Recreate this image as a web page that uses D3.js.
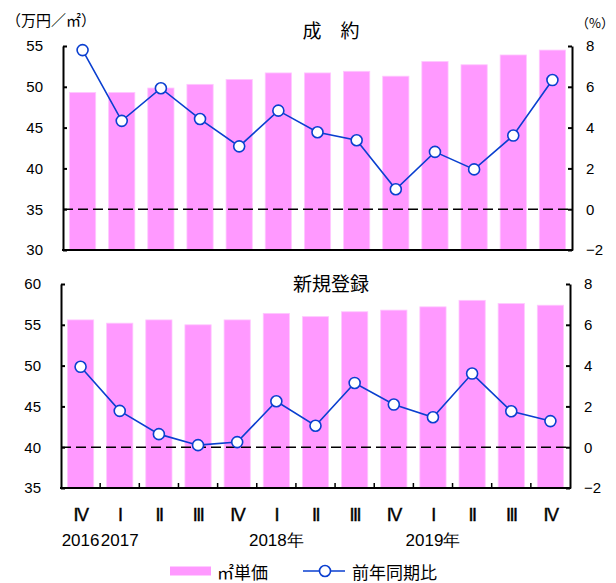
<!DOCTYPE html>
<html>
<head>
<meta charset="utf-8">
<script src="https://cdn.jsdelivr.net/npm/d3@7/dist/d3.min.js"></script>
<style>
  html, body { margin: 0; padding: 0; background: #fff; }
  svg { display: block; }
  text { font-family: "Liberation Sans", Arial, sans-serif; fill: #000; }
  .jp { font-family: "Noto Sans CJK JP", sans-serif; }
</style>
</head>
<body>
<script>
// Quarterly categories (2016 Q4 – 2019 Q4)
const quarters = ["IV", "I", "II", "III", "IV", "I", "II", "III", "IV", "I", "II", "III", "IV"];
const yearLabels = ["2016", "2017", "", "", "", "2018年", "", "", "", "2019年", "", "", ""];

// 成約: ㎡単価 (万円/㎡) and 前年同期比 (%)
const contractPrice = [49.3, 49.3, 49.85, 50.3, 50.9, 51.7, 51.7, 51.9, 51.3, 53.1, 52.7, 53.9, 54.5];
const contractYoY   = [7.8, 4.33, 5.93, 4.42, 3.08, 4.83, 3.77, 3.38, 0.98, 2.81, 1.95, 3.61, 6.33];

// 新規登録: ㎡単価 (万円/㎡) and 前年同期比 (%)
const listingPrice = [55.6, 55.2, 55.6, 55.0, 55.6, 56.4, 56.0, 56.6, 56.8, 57.2, 58.0, 57.6, 57.4];
const listingYoY   = [3.94, 1.78, 0.64, 0.1, 0.25, 2.25, 1.05, 3.15, 2.09, 1.47, 3.61, 1.76, 1.28];

// Axis ticks
const contractPriceTicks = [30, 35, 40, 45, 50, 55];
const listingPriceTicks  = [35, 40, 45, 50, 55, 60];
const yoyTicks = [-2, 0, 2, 4, 6, 8];

const W = 616, H = 583;
const BAR = "#ff99ff", LINE = "#0a3fd0";

const svg = d3.select("body").append("svg").attr("width", W).attr("height", H);

function panel(cfg) {
  const { x0, x1, top, bottom, priceDomain, priceTicks, price, yoy, title, titleY, xTicks } = cfg;
  const g = svg.append("g");

  const x = d3.scaleBand().domain(d3.range(quarters.length)).range([x0, x1])
    .paddingInner(0.33).paddingOuter(0.165);
  const yL = d3.scaleLinear().domain(priceDomain).range([bottom, top]);
  const yR = d3.scaleLinear().domain([-2, 8]).range([bottom, top]);

  // bars
  g.selectAll("rect.bar").data(price).join("rect")
    .attr("class", "bar")
    .attr("x", (d, i) => x(i))
    .attr("width", x.bandwidth())
    .attr("y", d => yL(d))
    .attr("height", d => yL(priceDomain[0]) - yL(d))
    .attr("fill", BAR)
    .attr("stroke", "#ffc8ff").attr("stroke-width", 0.8);

  // zero line for the YoY axis
  g.append("line")
    .attr("x1", x0).attr("x2", x1)
    .attr("y1", yR(0)).attr("y2", yR(0))
    .attr("stroke", "#000").attr("stroke-width", 1.5)
    .attr("stroke-dasharray", "10,5");

  // left axis
  const axL = g.append("g").attr("transform", `translate(${x0},0)`)
    .call(d3.axisLeft(yL).tickValues(priceTicks).tickSize(-4).tickPadding(20).tickSizeOuter(0));
  // right axis
  const axR = g.append("g").attr("transform", `translate(${x1},0)`)
    .call(d3.axisRight(yR).tickValues(yoyTicks).tickSize(-4).tickPadding(14).tickSizeOuter(0));
  [axL, axR].forEach(a => {
    a.select(".domain").attr("stroke", "#000").attr("stroke-width", 2);
    a.selectAll(".tick line").attr("stroke", "#000").attr("stroke-width", 2);
    a.selectAll(".tick text").attr("font-size", 15).attr("font-family", "Liberation Sans, Arial, sans-serif").attr("fill", "#000");
  });
  axR.selectAll(".tick text").attr("fill", d => d < 0 ? "#ff0000" : "#000");

  // bottom axis line
  g.append("line")
    .attr("x1", x0 - 1).attr("x2", x1 + 1)
    .attr("y1", bottom).attr("y2", bottom)
    .attr("stroke", "#000").attr("stroke-width", 2);
  if (xTicks) {
    const step = x.step();
    g.selectAll("line.xt").data(d3.range(1, quarters.length)).join("line")
      .attr("class", "xt")
      .attr("x1", i => x0 + i * step).attr("x2", i => x0 + i * step)
      .attr("y1", bottom).attr("y2", bottom - 5)
      .attr("stroke", "#000").attr("stroke-width", 1.5);
  }

  // YoY line with markers
  const cx = i => x(i) + x.bandwidth() / 2;
  g.append("path").datum(yoy)
    .attr("fill", "none").attr("stroke", LINE).attr("stroke-width", 1.6)
    .attr("d", d3.line().x((d, i) => cx(i)).y(d => yR(d)));
  g.selectAll("circle.pt").data(yoy).join("circle")
    .attr("class", "pt")
    .attr("cx", (d, i) => cx(i)).attr("cy", d => yR(d)).attr("r", 5.5)
    .attr("fill", "#fff").attr("stroke", LINE).attr("stroke-width", 1.6);

  // panel title
  g.append("text").attr("class", "jp")
    .attr("x", 331).attr("y", titleY)
    .attr("text-anchor", "middle").attr("font-size", 19)
    .text(title);

  return { x };
}

panel({
  x0: 63, x1: 572, top: 46, bottom: 250,
  priceDomain: [30, 55], priceTicks: contractPriceTicks,
  price: contractPrice, yoy: contractYoY,
  title: "成　約", titleY: 38, xTicks: false
});

const bottomPanel = panel({
  x0: 61, x1: 570, top: 284, bottom: 488,
  priceDomain: [35, 60], priceTicks: listingPriceTicks,
  price: listingPrice, yoy: listingYoY,
  title: "新規登録", titleY: 291, xTicks: true
});

// quarter (Roman numeral) and year labels
const bx = bottomPanel.x;
svg.selectAll("text.q").data(quarters).join("text")
  .attr("class", "q")
  .attr("x", (d, i) => bx(i) + bx.bandwidth() / 2)
  .attr("y", 521)
  .attr("text-anchor", "middle")
  .attr("font-size", 18)
  .attr("font-family", "Liberation Serif, DejaVu Serif, serif")
  .attr("stroke", "#000").attr("stroke-width", 0.4)
  .attr("letter-spacing", -1.5)
  .text(d => d);
svg.selectAll("text.yr").data(yearLabels).join("text")
  .attr("class", "yr")
  .attr("x", (d, i) => bx(i) + bx.bandwidth() / 2)
  .attr("y", 546)
  .attr("text-anchor", "middle")
  .attr("font-size", 17)
  .attr("font-family", "Liberation Sans, Noto Sans CJK JP, sans-serif")
  .text(d => d);

// unit labels
svg.append("text").attr("class", "jp").attr("x", 6).attr("y", 26)
  .attr("font-size", 15).text("（万円／㎡）");
svg.append("text").attr("class", "jp").attr("x", 576).attr("y", 28)
  .attr("font-size", 13).text("（%）");

// legend
const ly = 571;
svg.append("rect").attr("x", 170).attr("y", ly - 4.5).attr("width", 41).attr("height", 9).attr("fill", BAR);
svg.append("text").attr("class", "jp").attr("x", 217).attr("y", ly)
  .attr("dominant-baseline", "central").attr("font-size", 17).text("㎡単価");
svg.append("line").attr("x1", 303).attr("x2", 345).attr("y1", ly).attr("y2", ly)
  .attr("stroke", LINE).attr("stroke-width", 1.6);
svg.append("circle").attr("cx", 325).attr("cy", ly).attr("r", 5.5)
  .attr("fill", "#fff").attr("stroke", LINE).attr("stroke-width", 1.6);
svg.append("text").attr("class", "jp").attr("x", 352).attr("y", ly)
  .attr("dominant-baseline", "central").attr("font-size", 17).text("前年同期比");
</script>
</body>
</html>
